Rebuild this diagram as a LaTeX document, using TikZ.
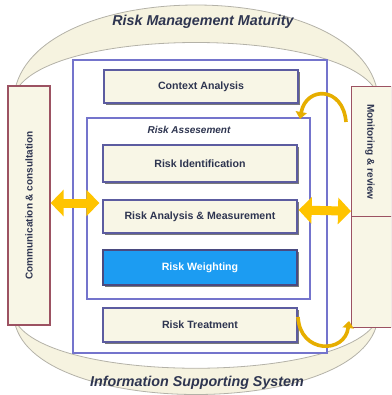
\documentclass[tikz,border=0pt]{standalone}
\usepackage{fontspec}
\setmainfont{Liberation Sans}
\usetikzlibrary{arrows.meta,shadows,calc}
\definecolor{cream}{HTML}{F8F6E6}
\definecolor{bandfill}{HTML}{F6F3E0}
\definecolor{bandline}{HTML}{B4B2A8}
\definecolor{boxline}{HTML}{5C5CA0}
\definecolor{rectline}{HTML}{7474CC}
\definecolor{maroon}{HTML}{9C5262}
\definecolor{txt}{HTML}{2E3550}
\definecolor{weight}{HTML}{1C9CF2}
\definecolor{gold}{HTML}{FFC400}
\definecolor{goldd}{HTML}{E6AE00}
\tikzset{
  procbox/.style={draw=boxline, line width=1.3pt, fill=cream, minimum width=194pt,
    text=txt, font=\bfseries\fontsize{10.6}{12}\selectfont,
    drop shadow={shadow xshift=1.6pt, shadow yshift=-1.6pt, fill=black!65, opacity=0.8}},
  framebox/.style={draw=rectline, line width=1.1pt},
  sidebox/.style={draw=maroon, line width=1.2pt, fill=cream},
  sidetext/.style={text=txt, font=\bfseries\fontsize{10}{11}\selectfont},
  band/.style={fill=bandfill, draw=bandline, line width=0.8pt},
  bandtext/.style={text=txt, font=\bfseries\itshape\fontsize{14.3}{16}\selectfont},
  dblarrow/.style={draw=gold, line width=9pt,
    {Triangle[width=26pt,length=13pt]}-{Triangle[width=26pt,length=13pt]}},
  curvearrow/.style={draw=goldd, line width=3.6pt, -{Triangle[width=11pt,length=7pt]}}
}
\begin{document}
\begin{tikzpicture}[x=1pt,y=-1pt]
\useasboundingbox (0,0) rectangle (391,395);
\clip (0,0) rectangle (391,395);
% bands
\path[band] (14,95) .. controls (30,-25) and (362,-25) .. (378,95)
   .. controls (352,25) and (40,25) .. (14,95) -- cycle;
\path[band] (14,318) .. controls (25,420) and (367,420) .. (378,318)
   .. controls (352,385) and (40,385) .. (14,318) -- cycle;
\node[bandtext] (rmm) at (203,22) {Risk Management Maturity};
\node[bandtext] (iss) at (197,383) {Information Supporting System};
% frames
\draw[framebox, fill=white] (73,60) rectangle (327,353);
\draw[framebox] (87,118) rectangle (310,299);
\node[text=txt, font=\bfseries\itshape\fontsize{10}{11}\selectfont] (ralabel) at (189,130) {Risk Assesement};
% process boxes
\node[procbox, minimum height=33pt] (ctx) at (201,86.5) {Context Analysis};
\node[procbox, minimum height=37pt] (rid) at (200,163.5) {Risk Identification};
\node[procbox, minimum height=33pt] (ram) at (200,216.5) {Risk Analysis \& Measurement};
\node[procbox, minimum height=35pt, fill=weight, text=white, draw=boxline!80!black] (rw) at (200,267.5) {Risk Weighting};
\node[procbox, minimum height=34pt] (rt) at (200,325) {Risk Treatment};
% side boxes
\node[sidebox, minimum width=42pt, minimum height=239pt] (cc) at (29,205.5) {};
\node[sidetext, rotate=90] (cctext) at (cc.center) {Communication \& consultation};
\node[sidebox, minimum width=40pt, minimum height=130pt, anchor=north west] (mr) at (351,86) {};
\node[sidebox, minimum width=40pt, minimum height=111pt, anchor=north west] (lower) at (351,216) {};
\node[sidetext, rotate=-90] (mrtext) at (370,152) {Monitoring \& review};
% arrows
\coordinate (la) at ($(cc.east)+(0,-2.5)$);
\coordinate (lb) at ($(ram.west)+(-3,-13.5)$);
\draw[dblarrow] (la) -- (lb);
\coordinate (ra) at ($(ram.east)+(1,-6.5)$);
\coordinate (rb) at ($(mr.south west)+(0,-6)$);
\draw[dblarrow] (ra) -- (rb);
\coordinate (t1) at (346,122);
\coordinate (t2) at (300,119);
\draw[curvearrow] (t1) .. controls (343,86) and (306,86) .. (t2);
\coordinate (b1) at (298,317);
\coordinate (b2) at (349,321);
\draw[curvearrow] (b1) .. controls (300,354) and (345,354) .. (b2);
\end{tikzpicture}
\end{document}
